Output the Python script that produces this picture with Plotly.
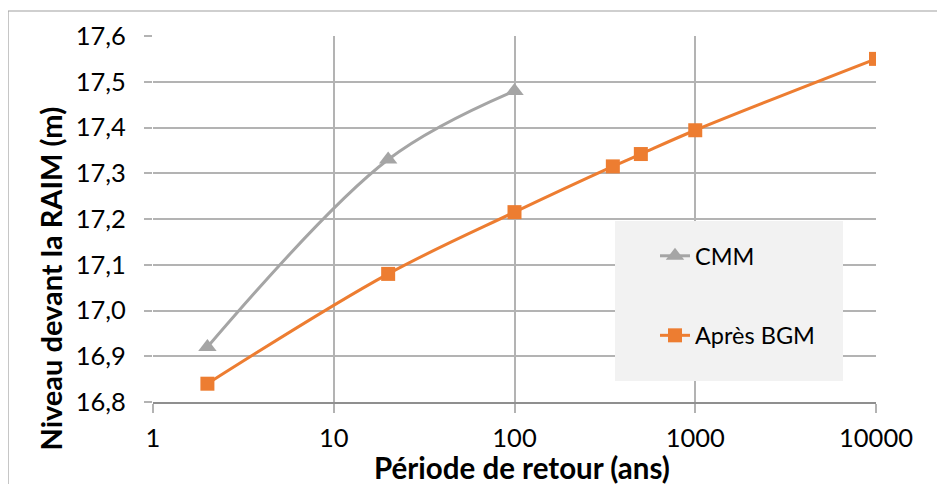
import plotly.graph_objects as go

# Data
cmm_x = [2, 20, 100]
cmm_y = [16.92, 17.33, 17.48]
bgm_x = [2, 20, 100, 350, 500, 1000, 10000]
bgm_y = [16.84, 17.08, 17.215, 17.315, 17.342, 17.394, 17.55]
x_ticks = [1, 10, 100, 1000, 10000]
x_tick_labels = ["1", "10", "100", "1000", "10000"]
series_names = ["CMM", "Après BGM"]
x_title = "<b>Période de retour (ans)</b>"
y_title = "<b>Niveau devant la RAIM (m)</b>"

FONT = "Lato"
OFF = 8  # page body margin
W, H = 945 - OFF, 484 - OFF
# plot area in screen pixels: x 153..876, y 36..402
L, R, T, B = 153 - OFF, 945 - 876, 36 - OFF, 484 - 402
pw, ph = 876 - 153, 402 - 36

def px_x(p):
    return (p - 153) / pw

def px_y(p):
    return (402 - p) / ph

fig = go.Figure()
fig.add_trace(go.Scatter(
    x=cmm_x, y=cmm_y, name=series_names[0], mode="lines+markers",
    line=dict(color="#a5a5a5", width=3, shape="spline", smoothing=1),
    marker=dict(symbol="triangle-up", size=16, color="#a5a5a5"),
    legendgroup="a",
))
fig.add_trace(go.Scatter(
    x=bgm_x, y=bgm_y, name=series_names[1], mode="lines+markers",
    line=dict(color="#ed7d31", width=3, shape="spline", smoothing=1),
    marker=dict(symbol="square", size=14, color="#ed7d31"),
    legendgroup="b",
))

shapes = [
    # outer chart border
    dict(type="rect", xref="paper", yref="paper",
         x0=px_x(8), x1=px_x(943), y0=px_y(11), y1=px_y(495),
         line=dict(color="#a0a0a0", width=1.2), fillcolor="rgba(0,0,0,0)", layer="below"),
    # legend box
    dict(type="rect", xref="paper", yref="paper",
         x0=px_x(615), x1=px_x(843), y0=px_y(221), y1=px_y(381),
         line=dict(width=0), fillcolor="#f2f2f2", layer="above"),
]

annotations = [
    dict(text=x_title, xref="paper", yref="paper", x=px_x(521.5), y=px_y(467),
         xanchor="center", yanchor="middle", showarrow=False,
         font=dict(family=FONT, size=29.5, color="#000000")),
    dict(text=y_title, xref="paper", yref="paper", x=px_x(50), y=px_y(278.5),
         xanchor="center", yanchor="middle", showarrow=False, textangle=-90,
         font=dict(family=FONT, size=29, color="#000000")),
]

fig.update_layout(
    width=W, height=H,
    margin=dict(l=L, r=R, t=T, b=B, pad=0, autoexpand=False),
    paper_bgcolor="white", plot_bgcolor="white",
    separators=", ",
    font=dict(family=FONT, color="#000000", size=22),
    shapes=shapes,
    annotations=annotations,
    legend=dict(
        x=px_x(655), y=px_y(234), xanchor="left", yanchor="top",
        bgcolor="rgba(0,0,0,0)", font=dict(family=FONT, size=23.5, color="#000000"),
        tracegroupgap=46, itemwidth=30,
    ),
    showlegend=True,
)
fig.update_xaxes(
    type="log", range=[0, 4],
    tickvals=x_ticks, ticktext=x_tick_labels,
    showgrid=True, gridcolor="#b3b3b3", gridwidth=1.6,
    ticks="outside", ticklen=9, tickcolor="#b3b3b3", tickwidth=1.6,
    showline=True, linecolor="#8f8f8f", linewidth=2,
    zeroline=False, ticklabelstandoff=3, automargin=False,
    tickfont=dict(family=FONT, size=25.5, color="#000000"),
)
fig.update_yaxes(
    range=[16.8, 17.6], dtick=0.1, tick0=16.8, tickformat=".1f",
    showgrid=True, gridcolor="#b3b3b3", gridwidth=1.6,
    ticks="outside", ticklen=8, tickcolor="#b3b3b3", tickwidth=1.6,
    showline=False, zeroline=False, ticklabelstandoff=13, automargin=False,
    tickfont=dict(family=FONT, size=25.5, color="#000000"),
)

fig.write_html("out.html")
